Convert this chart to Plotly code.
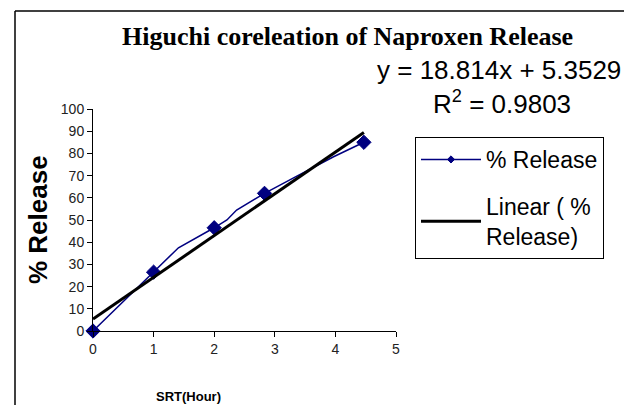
import plotly.graph_objects as go

# ---- data ----
srt_hours = [0, 1, 1.41, 2, 2.21, 2.37, 2.83, 3.31, 3.97, 4.47]
pct_release = [0, 26.5, 37.5, 46.5, 50, 54.5, 62, 69, 78.5, 85]
marker_shown = [1, 1, 0, 1, 0, 0, 1, 0, 0, 1]
trend_slope = 18.814
trend_intercept = 5.3529
r_squared = 0.9803
x_ticks = [0, 1, 2, 3, 4, 5]
y_ticks = [0, 10, 20, 30, 40, 50, 60, 70, 80, 90, 100]

# plot area in pixels
W, H = 624, 405
L, R, T, B = 93, 396, 109, 331

def px(x):
    return (x - L) / (R - L)

def py(y):
    return (B - y) / (B - T)

trend_x = [min(srt_hours), max(srt_hours)]
trend_y = [trend_slope * v + trend_intercept for v in trend_x]

fig = go.Figure()
fig.add_trace(go.Scatter(
    x=srt_hours, y=pct_release, mode="lines+markers", name="% Release",
    legendgroup="a", cliponaxis=False,
    line=dict(color="#000080", width=1.5),
    marker=dict(symbol="diamond", color="#000080", opacity=1,
                line=dict(color="#000080", width=1),
                size=[11 if m else 0 for m in marker_shown]),
))
fig.add_trace(go.Scatter(
    x=trend_x, y=trend_y, mode="lines", name="Linear ( %<br>Release)",
    legendgroup="b", cliponaxis=False,
    line=dict(color="black", width=3),
))

axis_font = dict(family="Liberation Sans, Arial", size=14, color="#222")
fig.update_xaxes(range=[0, 5], tickvals=x_ticks, showgrid=False, zeroline=False,
                 showline=True, linecolor="black", linewidth=1,
                 ticks="outside", ticklen=5, tickcolor="black", tickfont=axis_font)
fig.update_yaxes(range=[0, 100], tickvals=y_ticks, showgrid=False, zeroline=False,
                 showline=True, linecolor="black", linewidth=1,
                 ticks="outside", ticklen=5, tickcolor="black", tickfont=axis_font)

def note(text, x, y, size, family="Liberation Sans, Arial", angle=0):
    return dict(text=text, x=px(x), y=py(y), xref="paper", yref="paper",
                showarrow=False, xanchor="center", yanchor="middle",
                textangle=angle, font=dict(family=family, size=size, color="black"))

ann = [
    note("<b>Higuchi coreleation of Naproxen Release</b>", 347, 36, 26,
         family="Liberation Serif, Times New Roman"),
    note(f"y = {trend_slope}x + {trend_intercept}", 499, 70, 26),
    note(f"R<sup>2</sup> = {r_squared}", 502, 102, 26),
    note("<b>% Release</b>", 38, 220, 26, angle=-90),
    note("<b>SRT(Hour)</b>", 188, 396, 13,
         family="Liberation Sans Narrow, Liberation Sans, Arial"),
]

shapes = [
    dict(type="line", xref="paper", yref="paper", x0=px(15), x1=px(640), y0=py(11), y1=py(11),
         line=dict(color="black", width=1.5)),
    dict(type="line", xref="paper", yref="paper", x0=px(15), x1=px(15), y0=py(11), y1=py(420),
         line=dict(color="black", width=1.5)),
]

fig.update_layout(
    width=W, height=H,
    margin=dict(l=L, r=W - R, t=T, b=H - B),
    paper_bgcolor="white", plot_bgcolor="white",
    showlegend=True,
    legend=dict(x=px(415), y=py(137), xanchor="left", yanchor="top",
                bordercolor="black", borderwidth=1, bgcolor="white",
                font=dict(family="Liberation Sans, Arial", size=23, color="black"),
                itemwidth=60, tracegroupgap=14),
    annotations=ann, shapes=shapes,
)

fig.write_html("out.html", config={"displayModeBar": False},
               post_script="document.body.style.margin='0';")
